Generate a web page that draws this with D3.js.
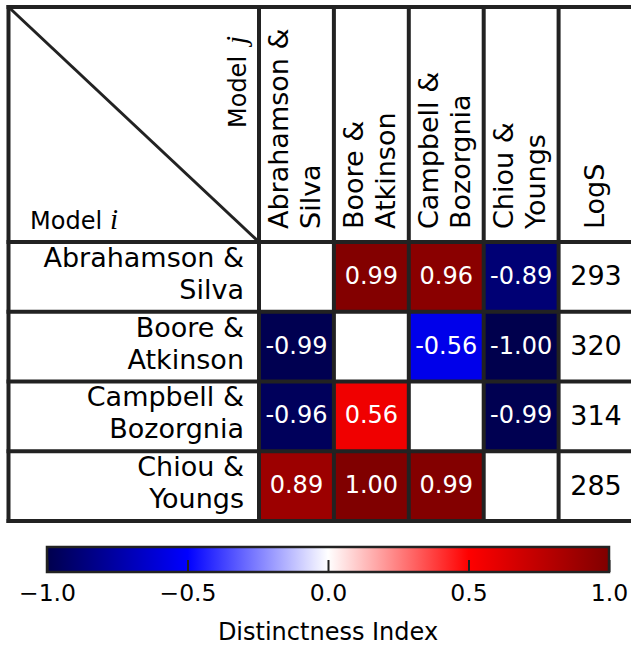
<!DOCTYPE html>
<html>
<head>
<meta charset="utf-8">
<script src="https://cdn.jsdelivr.net/npm/d3@7/dist/d3.min.js"></script>
<style>
  html, body { margin: 0; padding: 0; background: #fff; }
  svg { display: block; font-family: "DejaVu Sans", sans-serif; }
</style>
</head>
<body>
<svg id="chart" width="631" height="648"></svg>
<script>
// Model names (row and column keys) and their two-line labels
const models = ["AS", "BA", "CB", "CY"];
const modelLabels = [
  ["Abrahamson &", "Silva"],
  ["Boore &", "Atkinson"],
  ["Campbell &", "Bozorgnia"],
  ["Chiou &", "Youngs"]
];

// Distinctness index of model i (row) against model j (column)
const rowAS = [null, 0.99, 0.96, -0.89];
const rowBA = [-0.99, null, -0.56, -1.00];
const rowCB = [-0.96, 0.56, null, -0.99];
const rowCY = [0.89, 1.00, 0.99, null];

// Log score of each model
const logS = [293, 320, 314, 285];

// Colour bar ticks
const cbTicks = [-1.0, -0.5, 0.0, 0.5, 1.0];

const rows = [rowAS, rowBA, rowCB, rowCY];

const svg = d3.select("#chart");
const lineColor = "#222";
const labelSize = 27;
const mathFont = "'Liberation Serif', 'DejaVu Serif', serif";

// Table geometry
const tableLeft = 8.5, tableTop = 7;
const x = d3.scaleBand().domain([...models, "LogS"]).range([259, 633.5]);
const y = d3.scaleBand().domain(models).range([242, 521]);

// seismic diverging colour map
const color = d3.scaleLinear()
  .domain([-1, -0.5, 0, 0.5, 1])
  .range(["#00004d", "#0000ff", "#ffffff", "#ff0000", "#800000"])
  .clamp(true);

// Coloured cells
const cells = [];
rows.forEach((r, i) => r.forEach((v, j) => {
  cells.push({ row: models[i], col: models[j], v });
}));
const filled = cells.filter(d => d.v !== null);

svg.append("g").selectAll("rect")
  .data(filled)
  .join("rect")
  .attr("x", d => x(d.col))
  .attr("y", d => y(d.row))
  .attr("width", x.bandwidth())
  .attr("height", y.bandwidth())
  .attr("fill", d => color(d.v));

svg.append("g").selectAll("text")
  .data(filled)
  .join("text")
  .attr("x", d => x(d.col) + x.bandwidth() / 2)
  .attr("y", d => y(d.row) + y.bandwidth() / 2 + 7)
  .attr("text-anchor", "middle")
  .attr("font-size", 24)
  .attr("fill", "#fff")
  .text(d => d.v.toFixed(2));

// LogS column values
svg.append("g").selectAll("text")
  .data(logS)
  .join("text")
  .attr("x", x("LogS") + x.bandwidth() / 2)
  .attr("y", (d, i) => y(models[i]) + y.bandwidth() / 2 + 8.5)
  .attr("text-anchor", "middle")
  .attr("font-size", labelSize)
  .attr("fill", "#000")
  .text(d => d);

// Row labels
svg.append("g").selectAll("text")
  .data(modelLabels)
  .join("text")
  .attr("text-anchor", "end")
  .attr("font-size", labelSize)
  .attr("fill", "#000")
  .each(function (lines, i) {
    const cy = y(models[i]) + y.bandwidth() / 2;
    d3.select(this).selectAll("tspan")
      .data(lines)
      .join("tspan")
      .attr("x", 244)
      .attr("y", (d, k) => cy - 10 + k * 32)
      .text(d => d);
  });

// Column labels (rotated)
const colLabels = [...modelLabels, ["LogS"]];
const colKeys = [...models, "LogS"];
svg.append("g").selectAll("text")
  .data(colLabels)
  .join("text")
  .attr("transform", (d, i) => `translate(${x(colKeys[i]) + x.bandwidth() / 2},229) rotate(-90)`)
  .attr("text-anchor", "start")
  .attr("font-size", labelSize)
  .attr("fill", "#000")
  .each(function (lines) {
    const offs = lines.length === 2 ? [-8, 24] : [8];
    d3.select(this).selectAll("tspan")
      .data(lines)
      .join("tspan")
      .attr("x", 0)
      .attr("y", (d, k) => offs[k])
      .text(d => d);
  });

// Corner labels: "Model i" (rows) and "Model j" (columns)
const mi = svg.append("text")
  .attr("y", 229)
  .attr("font-size", 24).attr("fill", "#000");
mi.append("tspan").attr("x", 30).text("Model");
mi.append("tspan").attr("x", 110)
  .attr("font-family", mathFont).attr("font-style", "italic").attr("font-size", 29)
  .text("i");

const mj = svg.append("text")
  .attr("transform", "translate(246,0) rotate(-90)")
  .attr("font-size", 24).attr("fill", "#000");
mj.append("tspan").attr("x", -128).text("Model");
mj.append("tspan").attr("x", -44)
  .attr("font-family", mathFont).attr("font-style", "italic").attr("font-size", 29)
  .text("j");

// Grid lines
const grid = svg.append("g").attr("stroke", lineColor).attr("stroke-width", 4);
const xEdges = [tableLeft, ...colKeys.map(k => x(k)), x.range()[1]];
const yEdges = [tableTop, ...models.map(k => y(k)), y.range()[1]];
grid.selectAll("line.v")
  .data(xEdges)
  .join("line")
  .attr("class", "v")
  .attr("x1", d => d).attr("x2", d => d)
  .attr("y1", tableTop - 2).attr("y2", y.range()[1] + 2);
grid.selectAll("line.h")
  .data(yEdges)
  .join("line")
  .attr("class", "h")
  .attr("y1", d => d).attr("y2", d => d)
  .attr("x1", tableLeft - 2).attr("x2", x.range()[1] + 2);
grid.append("line")
  .attr("x1", tableLeft).attr("y1", tableTop)
  .attr("x2", x(models[0])).attr("y2", y(models[0]))
  .attr("stroke-width", 3);

// Colour bar
const cbX = d3.scaleLinear().domain([-1, 1]).range([47, 609]);
const cbTop = 547, cbBottom = 572;
const grad = svg.append("defs").append("linearGradient")
  .attr("id", "cbgrad").attr("x1", "0%").attr("x2", "100%");
d3.range(0, 1.0001, 0.05).forEach(t => {
  grad.append("stop")
    .attr("offset", `${t * 100}%`)
    .attr("stop-color", color(-1 + 2 * t));
});
svg.append("rect")
  .attr("x", cbX(-1)).attr("y", cbTop)
  .attr("width", cbX(1) - cbX(-1)).attr("height", cbBottom - cbTop)
  .attr("fill", "url(#cbgrad)")
  .attr("stroke", lineColor).attr("stroke-width", 2.5);

const cbAxis = d3.axisBottom(cbX)
  .tickValues(cbTicks)
  .tickFormat(d3.format(".1f"))
  .tickSize(-12)
  .tickPadding(12.5);
const ax = svg.append("g")
  .attr("transform", `translate(0,${cbBottom})`)
  .call(cbAxis);
ax.select(".domain").remove();
ax.selectAll(".tick line").attr("stroke", lineColor).attr("stroke-width", 2);
ax.selectAll(".tick text")
  .attr("font-size", 23.5)
  .attr("font-family", "DejaVu Sans, sans-serif")
  .attr("fill", "#000");

svg.append("text")
  .attr("x", (cbX(-1) + cbX(1)) / 2)
  .attr("y", 640)
  .attr("text-anchor", "middle")
  .attr("font-size", 24)
  .attr("fill", "#000")
  .text("Distinctness Index");
</script>
</body>
</html>
